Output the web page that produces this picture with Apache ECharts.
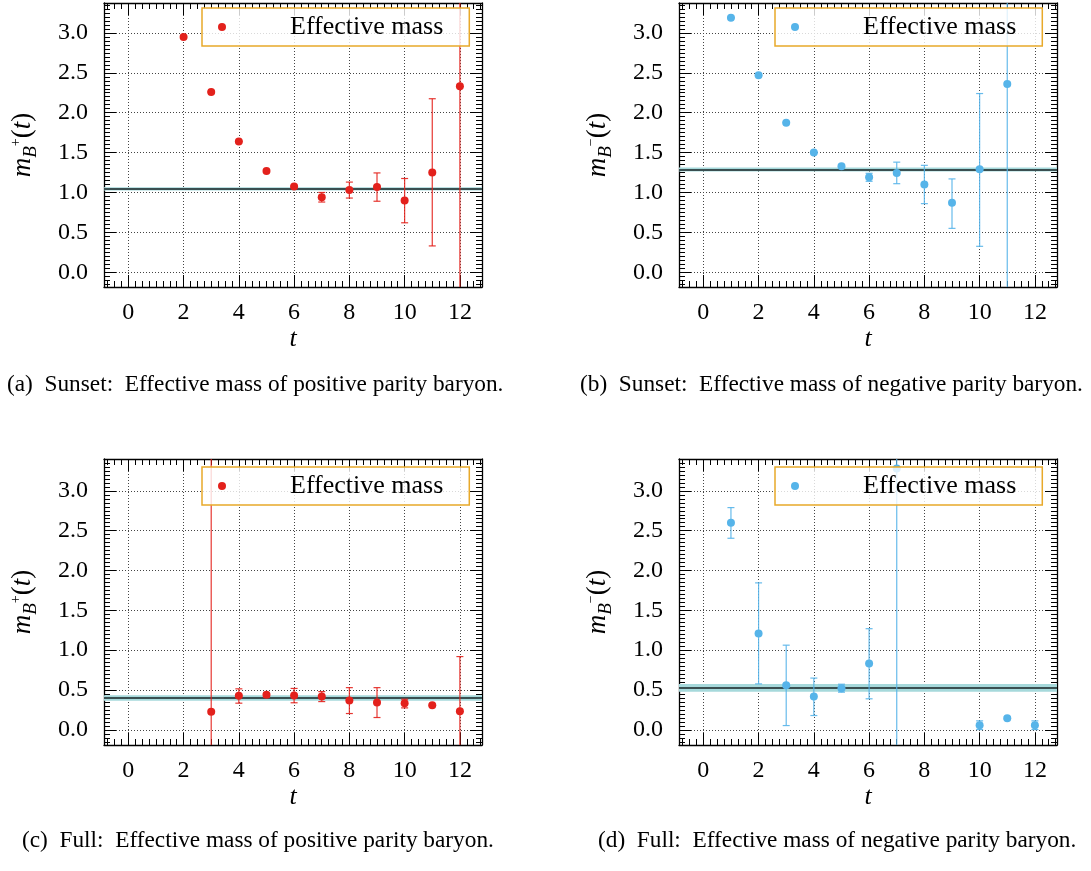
<!DOCTYPE html>
<html>
<head>
<meta charset="utf-8">
<script src="https://cdn.jsdelivr.net/npm/echarts@6.0.0/dist/echarts.min.js"></script>
<style>
    html, body { margin: 0; padding: 0; background: #fff; }
    #main { width: 1091px; height: 871px; }
</style>
</head>
<body>
<div id="main"></div>
<script>
// (a) Sunset, positive parity
const tA = [2, 3, 4, 5, 6, 7, 8, 9, 10, 11, 12];
const mA = [2.95, 2.26, 1.64, 1.27, 1.075, 0.94, 1.03, 1.07, 0.90, 1.25, 2.33];
const loA = [2.945, 2.255, 1.635, 1.258, 1.063, 0.88, 0.93, 0.89, 0.62, 0.33, -1.2];
const hiA = [2.955, 2.265, 1.645, 1.282, 1.087, 1.00, 1.13, 1.245, 1.175, 2.175, 5.9];
const fitA = [1.046, 0.02];

// (b) Sunset, negative parity
const tB = [1, 2, 3, 4, 5, 6, 7, 8, 9, 10, 11];
const mB = [3.19, 2.47, 1.875, 1.50, 1.33, 1.19, 1.245, 1.10, 0.87, 1.29, 2.36];
const loB = [3.185, 2.465, 1.87, 1.49, 1.318, 1.14, 1.11, 0.86, 0.55, 0.325, -1.0];
const hiB = [3.195, 2.475, 1.88, 1.51, 1.342, 1.24, 1.38, 1.34, 1.17, 2.24, 5.5];
const fitB = [1.287, 0.025];

// (c) Full, positive parity
const tC = [3, 4, 5, 6, 7, 8, 9, 10, 11, 12];
const mC = [0.226, 0.427, 0.44, 0.43, 0.42, 0.37, 0.343, 0.335, 0.31, 0.234];
const loC = [-3.0, 0.335, 0.41, 0.34, 0.355, 0.205, 0.155, 0.276, 0.30, -0.6];
const hiC = [4.1, 0.515, 0.46, 0.52, 0.48, 0.53, 0.53, 0.385, 0.32, 0.92];
const fitC = [0.40, 0.035];

// (d) Full, negative parity
const tD = [1, 2, 3, 4, 5, 6, 7, 10, 11, 12];
const mD = [2.60, 1.21, 0.56, 0.418, 0.523, 0.833, 3.28, 0.059, 0.146, 0.059];
const loD = [2.405, 0.577, 0.054, 0.18, 0.473, 0.39, -2.5, 0.004, 0.13, 0.004];
const hiD = [2.79, 1.845, 1.063, 0.65, 0.573, 1.27, 9.0, 0.113, 0.16, 0.113];
const fitD = [0.527, 0.048];

const xMajor = [0, 2, 4, 6, 8, 10, 12];
const yMajor = [0, 0.5, 1.0, 1.5, 2.0, 2.5, 3.0];
const xMinor = [];
for (let v = -0.75; v < 12.8; v += 0.25) xMinor.push(+v.toFixed(2));
const yMinor = [];
for (let v = -0.15; v < 3.41; v += 0.05) yMinor.push(+v.toFixed(2));

const captions = [
    '(a)  Sunset:  Effective mass of positive parity baryon.',
    '(b)  Sunset:  Effective mass of negative parity baryon.',
    '(c)  Full:  Effective mass of positive parity baryon.',
    '(d)  Full:  Effective mass of negative parity baryon.'
];

const SERIF = '"Liberation Serif", "DejaVu Serif", serif';
const RED = '#e3211c';
const BLUE = '#56b4e9';
const X_MIN = -0.88, X_MAX = 12.8;

const panels = [
    { key: 'A', t: tA, m: mA, lo: loA, hi: hiA, fit: fitA, color: RED, sign: '+',
      left: 104, top: 3, height: 284, yMin: -0.185, yMax: 3.375, legLeft: 202, legTop: 8, capLeft: 7, capTop: 373 },
    { key: 'B', t: tB, m: mB, lo: loB, hi: hiB, fit: fitB, color: BLUE, sign: '\u2212',
      left: 679, top: 3, height: 284, yMin: -0.185, yMax: 3.375, legLeft: 775, legTop: 8, capLeft: 580, capTop: 373 },
    { key: 'C', t: tC, m: mC, lo: loC, hi: hiC, fit: fitC, color: RED, sign: '+',
      left: 104, top: 459, height: 286, yMin: -0.19, yMax: 3.40, legLeft: 202, legTop: 467, capLeft: 22, capTop: 829 },
    { key: 'D', t: tD, m: mD, lo: loD, hi: hiD, fit: fitD, color: BLUE, sign: '\u2212',
      left: 679, top: 459, height: 286, yMin: -0.19, yMax: 3.40, legLeft: 775, legTop: 467, capLeft: 598, capTop: 829 }
];

const myChart = echarts.init(document.getElementById('main'));

const grid = [], xAxis = [], yAxis = [], series = [], legend = [], title = [];

const axisLine = (show) => ({ show: show, onZero: false, lineStyle: { color: '#000', width: 1.3 } });
const dotted = { show: true, lineStyle: { color: '#444', width: 1, type: [1, 2] } };

const renderErr = (params, api) => {
    const x = api.value(0);
    const pLo = api.coord([x, api.value(1)]);
    const pHi = api.coord([x, api.value(2)]);
    const cap = 3.5;
    const style = { stroke: api.visual('color'), lineWidth: 1.2, opacity: 0.9 };
    return {
        type: 'group',
        children: [
            { type: 'line', shape: { x1: pLo[0], y1: pLo[1], x2: pHi[0], y2: pHi[1] }, style: style },
            { type: 'line', shape: { x1: pLo[0] - cap, y1: pLo[1], x2: pLo[0] + cap, y2: pLo[1] }, style: style },
            { type: 'line', shape: { x1: pHi[0] - cap, y1: pHi[1], x2: pHi[0] + cap, y2: pHi[1] }, style: style }
        ]
    };
};

panels.forEach((p, gi) => {
    grid.push({ left: p.left, top: p.top, width: 378, height: p.height, outerBoundsMode: 'none' });

    const xi = xAxis.length;
    // bottom, with labels and grid lines
    xAxis.push({
        type: 'value', gridIndex: gi, position: 'bottom', min: X_MIN, max: X_MAX,
        axisLine: axisLine(true),
        axisTick: { inside: true, length: 12, customValues: xMajor, lineStyle: { color: '#000', width: 1 } },
        axisLabel: { customValues: xMajor, margin: 14, color: '#000', fontFamily: SERIF, fontSize: 24 },
        splitLine: dotted,
        name: 't', nameLocation: 'middle', nameGap: 38,
        nameTextStyle: { color: '#000', fontFamily: SERIF, fontStyle: 'italic', fontSize: 26 }
    });
    xAxis.push({
        type: 'value', gridIndex: gi, position: 'bottom', min: X_MIN, max: X_MAX,
        axisLine: axisLine(false),
        axisTick: { inside: true, length: 6, customValues: xMinor, lineStyle: { color: '#000', width: 1 } },
        axisLabel: { show: false }, splitLine: { show: false }
    });
    // mirrored top
    xAxis.push({
        type: 'value', gridIndex: gi, position: 'top', min: X_MIN, max: X_MAX,
        axisLine: axisLine(true),
        axisTick: { inside: true, length: 12, customValues: xMajor, lineStyle: { color: '#000', width: 1 } },
        axisLabel: { show: false }, splitLine: { show: false }
    });
    xAxis.push({
        type: 'value', gridIndex: gi, position: 'top', min: X_MIN, max: X_MAX,
        axisLine: axisLine(false),
        axisTick: { inside: true, length: 6, customValues: xMinor, lineStyle: { color: '#000', width: 1 } },
        axisLabel: { show: false }, splitLine: { show: false }
    });

    const yi = yAxis.length;
    yAxis.push({
        type: 'value', gridIndex: gi, position: 'left', min: p.yMin, max: p.yMax,
        axisLine: axisLine(true),
        axisTick: { inside: true, length: 12, customValues: yMajor, lineStyle: { color: '#000', width: 1 } },
        axisLabel: {
            customValues: yMajor, margin: 16, color: '#000', fontFamily: SERIF, fontSize: 24,
            formatter: (v) => v.toFixed(1)
        },
        splitLine: dotted,
        name: '{m|m}{b|B}{s|' + p.sign + '}{p|(}{m|t}{p|)}',
        nameLocation: 'middle', nameRotate: 90, nameGap: 64,
        nameTextStyle: {
            rich: {
                m: { fontFamily: SERIF, fontStyle: 'italic', fontSize: 27, lineHeight: 34, color: '#000' },
                p: { fontFamily: SERIF, fontSize: 27, lineHeight: 34, color: '#000' },
                b: { fontFamily: SERIF, fontStyle: 'italic', fontSize: 19, verticalAlign: 'bottom', color: '#000' },
                s: { fontFamily: SERIF, fontSize: 14, verticalAlign: 'top', padding: [3, 0, 0, 0], color: '#000' }
            }
        }
    });
    yAxis.push({
        type: 'value', gridIndex: gi, position: 'left', min: p.yMin, max: p.yMax,
        axisLine: axisLine(false),
        axisTick: { inside: true, length: 6, customValues: yMinor, lineStyle: { color: '#000', width: 1 } },
        axisLabel: { show: false }, splitLine: { show: false }
    });
    yAxis.push({
        type: 'value', gridIndex: gi, position: 'right', min: p.yMin, max: p.yMax,
        axisLine: axisLine(true),
        axisTick: { inside: true, length: 12, customValues: yMajor, lineStyle: { color: '#000', width: 1 } },
        axisLabel: { show: false }, splitLine: { show: false }
    });
    yAxis.push({
        type: 'value', gridIndex: gi, position: 'right', min: p.yMin, max: p.yMax,
        axisLine: axisLine(false),
        axisTick: { inside: true, length: 6, customValues: yMinor, lineStyle: { color: '#000', width: 1 } },
        axisLabel: { show: false }, splitLine: { show: false }
    });

    const seriesName = 'Effective mass ' + p.key;

    // fit: band and central value
    series.push({
        type: 'line', xAxisIndex: xi, yAxisIndex: yi, data: [], silent: true,
        markArea: {
            silent: true, z: 1,
            itemStyle: { color: '#a6d9db', opacity: 1 },
            data: [[{ yAxis: p.fit[0] - p.fit[1] }, { yAxis: p.fit[0] + p.fit[1] }]]
        },
        markLine: {
            silent: true, z: 2, symbol: ['none', 'none'], label: { show: false },
            lineStyle: { color: '#3a4f51', width: 2, type: 'solid', opacity: 1 },
            data: [{ yAxis: p.fit[0] }]
        }
    });

    series.push({
        type: 'custom', xAxisIndex: xi, yAxisIndex: yi, clip: true, z: 3, silent: true,
        itemStyle: { color: p.color },
        renderItem: renderErr,
        data: p.t.map((t, i) => [t, p.lo[i], p.hi[i]])
    });

    series.push({
        type: 'scatter', name: seriesName, xAxisIndex: xi, yAxisIndex: yi, z: 4,
        symbol: 'circle', symbolSize: 8,
        itemStyle: { color: p.color, borderWidth: 0, opacity: 1 },
        data: p.t.map((t, i) => [t, p.m[i]])
    });

    legend.push({
        data: [seriesName], left: p.legLeft, top: p.legTop, z: 10,
        selectedMode: false, icon: 'circle', itemWidth: 8, itemHeight: 8,
        padding: [6, 26, 6, 16],
        borderColor: '#e8a92a', borderWidth: 1.5, borderRadius: 0,
        backgroundColor: 'rgba(255,255,255,0.8)',
        itemStyle: { borderWidth: 0, opacity: 1 },
        formatter: () => 'Effective mass',
        textStyle: { color: '#000', fontFamily: SERIF, fontSize: 26, padding: [0, 0, 0, 59] }
    });

    title.push({
        text: captions[gi], left: p.capLeft, top: p.capTop, padding: 0,
        textStyle: { color: '#000', fontFamily: SERIF, fontSize: 23.3, fontWeight: 'normal' }
    });
});

const option = {
    animation: false,
    backgroundColor: '#fff',
    title: title,
    legend: legend,
    grid: grid,
    xAxis: xAxis,
    yAxis: yAxis,
    series: series
};

option && myChart.setOption(option);
</script>
</body>
</html>
